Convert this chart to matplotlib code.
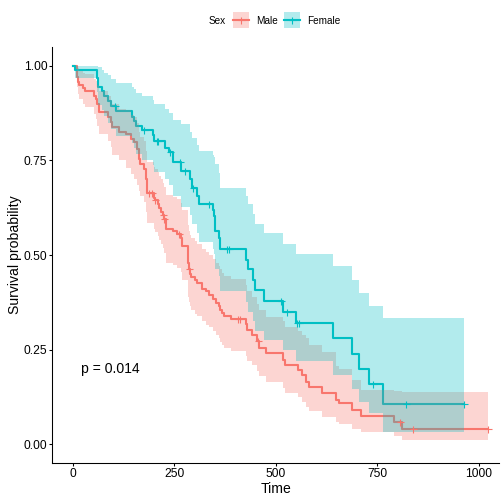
import matplotlib
matplotlib.use('Agg')
import matplotlib.pyplot as plt
import numpy as np
from matplotlib.lines import Line2D
from matplotlib.patches import Rectangle

plt.rcParams['font.family'] = ['Liberation Sans', 'DejaVu Sans']

# ---------------- data ----------------
groups = ["Male", "Female"]
colors = ["#F8766D", "#00BFC4"]

M_time = [0, 11, 12, 13, 15, 26, 30, 53, 57, 61,
          65, 88, 94, 98, 114, 131, 143, 151, 159, 163,
          167, 176, 180, 183, 184, 200, 204, 210, 213, 218,
          222, 225, 229, 246, 258, 266, 270, 283, 285, 286,
          288, 291, 301, 306, 319, 329, 336, 345, 353, 360,
          364, 369, 373, 389, 428, 429, 442, 455, 459, 477,
          519, 524, 555, 566, 574, 582, 615, 648, 656, 689,
          709, 791, 812]
M_surv = [1.000, 0.978, 0.971, 0.957, 0.949, 0.942, 0.934, 0.920, 0.913, 0.899,
          0.877, 0.864, 0.851, 0.837, 0.824, 0.820, 0.807, 0.798, 0.780, 0.754,
          0.740, 0.727, 0.700, 0.683, 0.665, 0.652, 0.645, 0.636, 0.625, 0.615,
          0.605, 0.594, 0.568, 0.563, 0.555, 0.545, 0.524, 0.500, 0.480, 0.462,
          0.450, 0.442, 0.433, 0.427, 0.411, 0.404, 0.395, 0.385, 0.374, 0.365,
          0.356, 0.347, 0.340, 0.332, 0.317, 0.303, 0.290, 0.272, 0.256, 0.241,
          0.224, 0.210, 0.197, 0.184, 0.166, 0.153, 0.135, 0.117, 0.109, 0.091,
          0.075, 0.060, 0.040]
M_lower = [1.000, 0.954, 0.943, 0.925, 0.912, 0.900, 0.890, 0.872, 0.860, 0.840,
           0.820, 0.800, 0.785, 0.765, 0.750, 0.730, 0.715, 0.700, 0.685, 0.670,
           0.655, 0.640, 0.615, 0.600, 0.585, 0.570, 0.560, 0.550, 0.540, 0.530,
           0.520, 0.505, 0.480, 0.475, 0.465, 0.455, 0.435, 0.410, 0.390, 0.375,
           0.365, 0.355, 0.345, 0.340, 0.325, 0.315, 0.310, 0.300, 0.290, 0.280,
           0.270, 0.263, 0.255, 0.248, 0.233, 0.220, 0.210, 0.193, 0.180, 0.165,
           0.150, 0.137, 0.125, 0.113, 0.098, 0.088, 0.072, 0.058, 0.053, 0.040,
           0.032, 0.022, 0.012]
M_upper = [1.000, 1.000, 1.000, 0.993, 0.987, 0.982, 0.977, 0.966, 0.960, 0.950,
           0.932, 0.921, 0.910, 0.898, 0.886, 0.883, 0.871, 0.864, 0.848, 0.825,
           0.813, 0.800, 0.776, 0.760, 0.745, 0.733, 0.727, 0.719, 0.709, 0.700,
           0.691, 0.681, 0.658, 0.654, 0.647, 0.638, 0.619, 0.597, 0.579, 0.563,
           0.552, 0.544, 0.536, 0.530, 0.515, 0.509, 0.500, 0.490, 0.480, 0.471,
           0.462, 0.453, 0.446, 0.438, 0.420, 0.404, 0.390, 0.371, 0.354, 0.337,
           0.325, 0.310, 0.300, 0.290, 0.281, 0.263, 0.245, 0.206, 0.200, 0.170,
           0.145, 0.140, 0.138]
M_end = 1022
M_censor = [188, 196, 204, 222, 225, 262, 286, 408, 413, 456, 805, 839, 1022]

F_time = [0, 5, 60, 61, 62, 73, 77, 88, 94, 108,
          147, 151, 155, 172, 199, 201, 227, 237, 247, 268,
          288, 295, 307, 311, 346, 348, 350, 351, 360, 363,
          426, 432, 444, 449, 471, 519, 549, 641, 687, 706,
          731, 765]
F_surv = [1.000, 0.989, 0.978, 0.967, 0.944, 0.934, 0.920, 0.908, 0.895, 0.881,
          0.864, 0.855, 0.842, 0.829, 0.816, 0.802, 0.784, 0.771, 0.745, 0.722,
          0.700, 0.678, 0.656, 0.634, 0.618, 0.603, 0.584, 0.563, 0.546, 0.517,
          0.488, 0.462, 0.433, 0.407, 0.380, 0.351, 0.321, 0.281, 0.239, 0.199,
          0.160, 0.106]
F_lower = [1.000, 0.967, 0.948, 0.930, 0.897, 0.884, 0.866, 0.850, 0.832, 0.815,
           0.795, 0.783, 0.768, 0.752, 0.737, 0.720, 0.700, 0.685, 0.655, 0.628,
           0.605, 0.581, 0.558, 0.535, 0.517, 0.502, 0.483, 0.462, 0.445, 0.405,
           0.375, 0.350, 0.325, 0.300, 0.275, 0.250, 0.221, 0.183, 0.146, 0.112,
           0.082, 0.033]
F_upper = [1.000, 1.000, 1.000, 1.000, 0.997, 0.990, 0.982, 0.975, 0.966, 0.955,
           0.944, 0.938, 0.929, 0.920, 0.910, 0.898, 0.886, 0.876, 0.858, 0.846,
           0.826, 0.810, 0.792, 0.776, 0.765, 0.758, 0.748, 0.740, 0.718, 0.678,
           0.656, 0.634, 0.608, 0.581, 0.559, 0.528, 0.502, 0.471, 0.435, 0.400,
           0.365, 0.334]
F_end = 965
F_censor = [105, 177, 208, 211, 241, 265, 278, 297, 336, 380, 385, 512, 529,
            552, 557, 740, 821, 965]

x_ticks = [0, 250, 500, 750, 1000]
x_ticklabels = ["0", "250", "500", "750", "1000"]
y_ticks = [0.00, 0.25, 0.50, 0.75, 1.00]
y_ticklabels = ["0.00", "0.25", "0.50", "0.75", "1.00"]
p_text = "p = 0.014"

# ---------------- figure ----------------
W = H = 504
L, R, T, B = 52.3, 499.0, 46.8, 463.4
fig = plt.figure(figsize=(7, 7), dpi=72)
ax = fig.add_axes([L / W, 1 - B / H, (R - L) / W, (B - T) / H])

data = [
    (M_time, M_surv, M_lower, M_upper, M_end, M_censor),
    (F_time, F_surv, F_lower, F_upper, F_end, F_censor),
]

for (t, s, lo, up, end, cens), col in zip(data, colors):
    tt = np.append(np.array(t, float), end)
    ss = np.append(np.array(s), s[-1])
    ll = np.append(np.array(lo), lo[-1])
    uu = np.append(np.array(up), up[-1])
    ax.step(tt, ss, where='post', color=col, lw=2.1, zorder=2)
    ax.fill_between(tt, ll, uu, step='post', color=col, alpha=0.3, lw=0, zorder=3)

for (t, s, lo, up, end, cens), col in zip(data, colors):
    idx = np.searchsorted(np.array(t), np.array(cens), side='right') - 1
    ys = np.array(s)[idx]
    ax.plot(cens, ys, ls='none', marker='+', ms=7, mew=1.1, color=col, zorder=4)

ax.text(20, 0.2, p_text, fontsize=14, ha='left', va='center', color='black')

ax.set_xlim(-50, 1050)
ax.set_ylim(-0.05, 1.05)
ax.set_xticks(x_ticks)
ax.set_xticklabels(x_ticklabels)
ax.set_yticks(y_ticks)
ax.set_yticklabels(y_ticklabels)
ax.tick_params(axis='both', direction='out', length=2.8, width=1.07, colors='black',
               labelsize=12, pad=2.2)
for side in ['top', 'right']:
    ax.spines[side].set_visible(False)
for side in ['left', 'bottom']:
    ax.spines[side].set_linewidth(1.07)
    ax.spines[side].set_color('black')

ax.set_xlabel("Time", fontsize=14)
ax.set_ylabel("Survival probability", fontsize=14)
ax.xaxis.set_label_coords(0.5, (B - 481.8) / (B - T))
ax.yaxis.set_label_coords((21.5 - L) / (R - L), 0.5)

# ---------------- legend (top) ----------------
def fx(px):
    return px / W

def fy(py):
    return 1 - py / H

fig.text(fx(209), fy(20.5), "Sex", fontsize=10, ha='left', va='center')
key_x = [233, 284]
label_x = [255.7, 307]
for g, col, kx, lx in zip(groups, colors, key_x, label_x):
    fig.patches.append(Rectangle((fx(kx), fy(28)), 16 / W, 16 / H, transform=fig.transFigure,
                                 facecolor=col, alpha=0.3, edgecolor='none'))
    fig.lines.append(Line2D([fx(kx), fx(kx + 16)], [fy(20), fy(20)], transform=fig.transFigure,
                            color=col, lw=2.1))
    fig.lines.append(Line2D([fx(kx + 8)], [fy(20)], transform=fig.transFigure, color=col,
                            marker='+', ms=7, mew=1.1, ls='none'))
    fig.text(fx(lx), fy(20.5), g, fontsize=10, ha='left', va='center')

fig.savefig("out.png", dpi=72)
